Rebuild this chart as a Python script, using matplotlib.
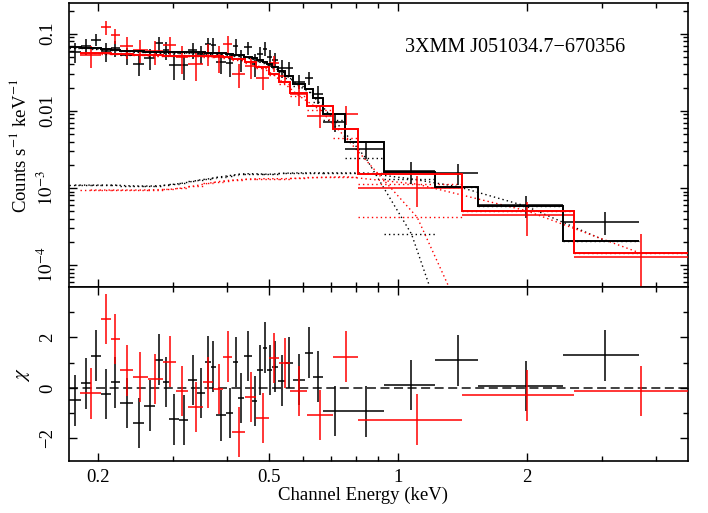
import numpy as np
import matplotlib
matplotlib.use('Agg')
from matplotlib import pyplot as plt
from matplotlib import ticker

plt.rcParams['font.family'] = ['Liberation Serif', 'DejaVu Serif']
plt.rcParams['mathtext.fontset'] = 'stix'

# ============= spectrum 1 (black) =============
black_edges = [0.1714, 0.1826, 0.1929, 0.2032, 0.2144, 0.2254, 0.2413, 0.2569, 0.2725, 0.2835,
               0.2938, 0.3099, 0.3253, 0.3403, 0.3558, 0.3668, 0.3774, 0.3983, 0.4142, 0.4255,
               0.4387, 0.4571, 0.4710, 0.4864, 0.4970, 0.5089, 0.5273, 0.5466, 0.5715, 0.6085,
               0.6342, 0.6713, 0.7543, 0.9313, 1.2225, 1.5428, 2.434, 3.66]
black_rate = [0.0585, 0.0688, 0.0839, 0.0590, 0.0654, 0.0523, 0.0410, 0.0482, 0.0755, 0.0614,
              0.0395, 0.0392, 0.0621, 0.0545, 0.0731, 0.0709, 0.0424, 0.0414, 0.0696, 0.0466,
              0.0663, 0.0410, 0.0549, 0.0641, 0.0494, 0.0461, 0.0358, 0.0356, 0.0240, 0.0266,
              0.01674, 0.00725, 0.00319, 0.00166, 0.00155, 0.000598, 0.000365]
black_err = [0.0167, 0.0165, 0.0149, 0.0157, 0.0155, 0.0132, 0.0130, 0.0146, 0.0161, 0.0161,
             0.0144, 0.0144, 0.0144, 0.0144, 0.0158, 0.0170, 0.0123, 0.0138, 0.0160, 0.0147,
             0.0126, 0.0135, 0.0129, 0.0130, 0.0122, 0.0104, 0.0093, 0.0071, 0.0049, 0.0052,
             0.0044, 0.00199, 0.00083, 0.00053, 0.00047, 0.000187, 0.000122]
black_model = [0.0668, 0.0658, 0.0648, 0.0629, 0.0620, 0.0601, 0.0593, 0.0584, 0.0575, 0.0575,
               0.0575, 0.0575, 0.0575, 0.0575, 0.0566, 0.0566, 0.0558, 0.0550, 0.0533, 0.0526,
               0.0503, 0.0481, 0.0459, 0.0433, 0.0408, 0.0373, 0.0331, 0.0285, 0.0224, 0.0193,
               0.01475, 0.00906, 0.00396, 0.00160, 0.00104, 0.000583, 0.000207]
black_therm = [0.0657, 0.0647, 0.0637, 0.0618, 0.0609, 0.0590, 0.0582, 0.0573, 0.0564, 0.0564,
               0.0564, 0.0563, 0.0563, 0.0562, 0.0553, 0.0553, 0.0544, 0.0535, 0.0518, 0.0511,
               0.0488, 0.0466, 0.0444, 0.0418, 0.0393, 0.0358, 0.0315, 0.0269, 0.0208, 0.0177,
               0.0132, 0.0075, 0.00245, 0.000253, 4.5e-6, 1e-8, 1e-11]
black_cont = [0.00109, 0.00109, 0.00109, 0.00109, 0.00109, 0.00107, 0.00106, 0.00106, 0.00107, 0.00109,
              0.00112, 0.00116, 0.00122, 0.00128, 0.00131, 0.00135, 0.00140, 0.00145, 0.00149, 0.00152,
              0.00153, 0.00153, 0.00152, 0.00151, 0.00151, 0.00152, 0.00155, 0.00156, 0.00157, 0.00157,
              0.00157, 0.00157, 0.00156, 0.00131, 0.00104, 0.000583, 0.000207]
black_chi = [-0.50, 0.18, 1.28, -0.25, 0.22, -0.59, -1.40, -0.70, 1.12, 0.24,
             -1.25, -1.27, 0.32, -0.21, 1.04, 0.84, -1.09, -0.99, 1.02, -0.41,
             1.27, -0.53, 0.70, 1.60, 0.70, 0.84, 0.29, 1.00, 0.33, 1.40,
             0.45, -0.91, -0.93, 0.11, 1.09, 0.08, 1.29]

# ============= spectrum 2 (red) =============
red_edges = [0.1819, 0.2032, 0.2144, 0.2254, 0.2413, 0.2616, 0.2835, 0.3045, 0.3253, 0.3514,
             0.3720, 0.3926, 0.4106, 0.4410, 0.4678, 0.5024, 0.5284, 0.5614, 0.6141, 0.7060,
             0.8100, 1.4107, 2.582, 4.80]
red_rate = [0.0529, 0.1215, 0.0955, 0.0692, 0.0620, 0.0598, 0.0723, 0.0494, 0.0400, 0.0558,
            0.0500, 0.0740, 0.0300, 0.0385, 0.0270, 0.0417, 0.0279, 0.0165, 0.00869, 0.00906,
            0.00099, 0.000445, 0.000127]
red_err = [0.0170, 0.0240, 0.0209, 0.0217, 0.0203, 0.0200, 0.0197, 0.0197, 0.0155, 0.0181,
           0.0194, 0.0191, 0.0100, 0.0130, 0.0086, 0.0097, 0.0042, 0.0051, 0.0027, 0.0026,
           0.00043, 0.000207, 0.000123]
red_model = [0.0566, 0.0558, 0.0550, 0.0542, 0.0533, 0.0526, 0.0518, 0.0518, 0.0518, 0.0518,
             0.0510, 0.0503, 0.0473, 0.0433, 0.0373, 0.0302, 0.0238, 0.0171, 0.01161, 0.00584,
             0.00153, 0.000507, 0.000142]
red_therm = [0.0557, 0.0549, 0.0541, 0.0533, 0.0524, 0.0516, 0.0508, 0.0508, 0.0507, 0.0506,
             0.0498, 0.0490, 0.0460, 0.0420, 0.0360, 0.0289, 0.0225, 0.0158, 0.0102, 0.00444,
             0.000417, 3.2e-7, 1e-10]
red_cont = [0.00094, 0.00094, 0.00094, 0.00094, 0.00094, 0.00095, 0.00096, 0.00100, 0.00107, 0.00115,
            0.00121, 0.00125, 0.00128, 0.00131, 0.00132, 0.00132, 0.00132, 0.00134, 0.00137, 0.00140,
            0.00112, 0.000507, 0.000142]
red_chi = [-0.22, 2.74, 1.94, 0.69, 0.43, 0.36, 1.04, -0.12, -0.76, 0.22,
           -0.05, 1.24, -1.74, -0.37, -1.20, 1.19, 0.98, -0.12, -1.08, 1.24,
           -1.26, -0.30, -0.12]

source_name = '3XMM J051034.7\u2212670356'
x_major = [0.2, 0.5, 1, 2]
x_major_labels = ['0.2', '0.5', '1', '2']
x_minor = [0.3, 0.4, 0.6, 0.7, 0.8, 0.9, 3, 4]
top_yticks = [1e-4, 1e-3, 0.01, 0.1]
top_ylabels = [r'$10^{-4}$', r'$10^{-3}$', '0.01', '0.1']
chi_major = [-2, 0, 2]
chi_minor = [-1, 1, 3]


def plot_spectrum(ax_top, ax_chi, edges, rate, err, model, therm, cont, chi, color):
    edges = np.array(edges)
    lo, hi = edges[:-1], edges[1:]
    cen = (lo + hi) / 2
    xerr = [cen - lo, hi - cen]

    ax_top.errorbar(cen, rate, xerr=xerr, yerr=err, fmt='none', ecolor=color,
                    elinewidth=1.1, capsize=0, zorder=3)
    ax_top.stairs(model, edges, color=color, lw=1.4, baseline=None, zorder=4)

    # model components: bin values plus line through bin centres
    for comp in (therm, cont):
        ax_top.hlines(comp, lo, hi, colors=color, linestyles=(0, (1, 2.2)), lw=1.0, zorder=2)
        ax_top.plot(cen, comp, color=color, ls=(0, (1, 2.2)), lw=1.0, zorder=2)

    ax_chi.errorbar(cen, chi, xerr=xerr, yerr=np.ones(len(chi)), fmt='none', ecolor=color,
                    elinewidth=1.1, capsize=0, zorder=3)


fig = plt.figure(figsize=(7.08, 5.13), dpi=100)
ax_top = fig.add_axes([0.0975, 0.4405, 0.8743, 0.5536])
ax_chi = fig.add_axes([0.0975, 0.1014, 0.8743, 0.3391], sharex=ax_top)

plot_spectrum(ax_top, ax_chi, black_edges, black_rate, black_err, black_model,
              black_therm, black_cont, black_chi, 'black')
plot_spectrum(ax_top, ax_chi, red_edges, red_rate, red_err, red_model,
              red_therm, red_cont, red_chi, '#ff0000')

ax_chi.axhline(0, color='#333333', ls=(0, (5, 2.5)), lw=1.3, zorder=1)

ax_top.set_xscale('log')
ax_top.set_yscale('log')
ax_top.set_xlim(0.1714, 4.75)
ax_top.set_ylim(5.2e-5, 0.25)
ax_chi.set_ylim(-2.9, 4.0)

ax_top.xaxis.set_major_locator(ticker.FixedLocator(x_major))
ax_top.xaxis.set_minor_locator(ticker.FixedLocator(x_minor))
ax_top.xaxis.set_major_formatter(ticker.FixedFormatter(x_major_labels))
ax_top.xaxis.set_minor_formatter(ticker.NullFormatter())

ax_top.set_yticks(top_yticks, labels=top_ylabels)
ax_top.yaxis.set_minor_locator(ticker.LogLocator(base=10, subs=np.arange(2, 10)))
ax_top.yaxis.set_minor_formatter(ticker.NullFormatter())

ax_chi.set_yticks(chi_major)
ax_chi.yaxis.set_minor_locator(ticker.FixedLocator(chi_minor))

for ax in (ax_top, ax_chi):
    ax.tick_params(which='both', direction='in', top=True, right=True, width=1.0, labelsize=13.5)
    ax.tick_params(which='major', length=6)
    ax.tick_params(which='minor', length=3.5)
    ax.tick_params(axis='y', pad=9)
    ax.tick_params(axis='x', pad=6)
    for sp in ax.spines.values():
        sp.set_linewidth(1.2)
    for lab in ax.get_yticklabels():
        lab.set_rotation(90)
        lab.set_va('center')

ax_top.tick_params(labelbottom=False)

ax_top.text(0.72, 0.845, source_name, transform=ax_top.transAxes, ha='center', va='center',
            fontsize=14.5)

fig.text(20 / 708, 1 - 146 / 513, r'Counts s$^{-1}$ keV$^{-1}$', rotation=90,
         ha='center', va='center', fontsize=13.5)
fig.text(22 / 708, 1 - 375 / 513, r'$\chi$', rotation=90, ha='center', va='center', fontsize=15)
fig.text(363 / 708, 1 - 495 / 513, 'Channel Energy (keV)', ha='center', va='center', fontsize=13.5)

fig.savefig('out.png', dpi=100)
